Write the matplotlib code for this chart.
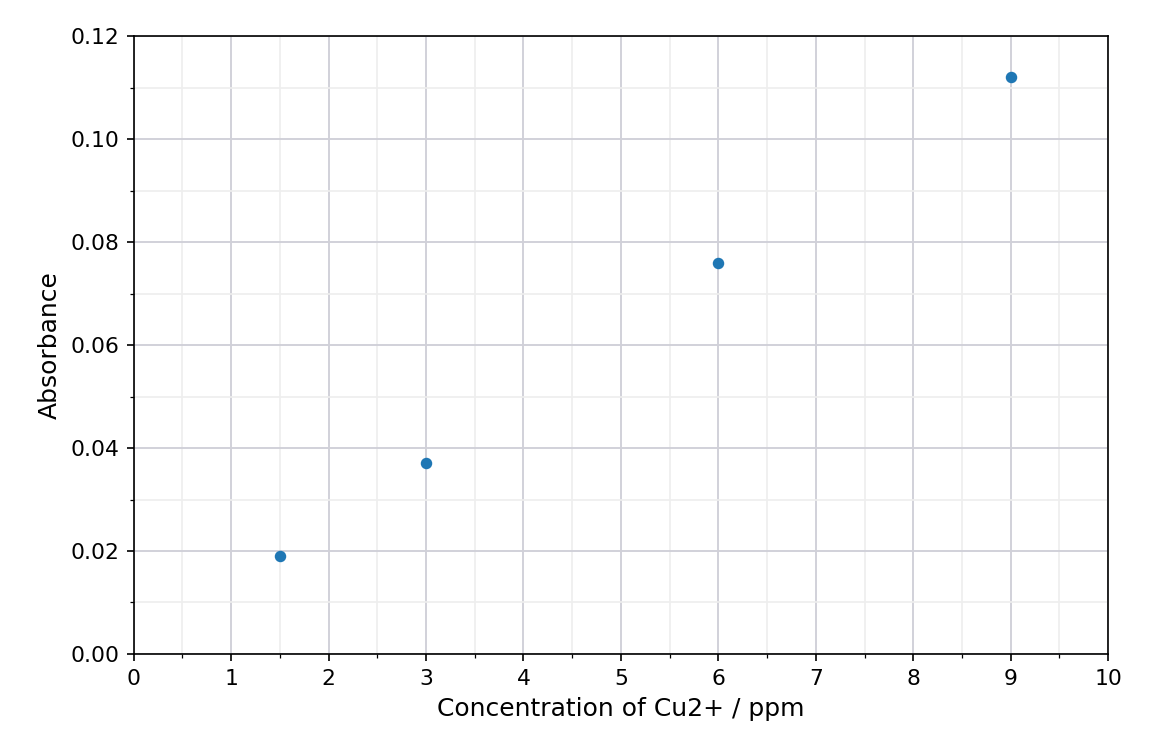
import matplotlib
matplotlib.use('Agg')
import matplotlib.pyplot as plt
from matplotlib.ticker import MultipleLocator

# Calibration data
conc = [1.5, 3, 6, 9]
absorbance = [0.019, 0.037, 0.076, 0.112]

fig = plt.figure(figsize=(7.68, 5.04), dpi=150)
ax = fig.add_axes([0.116, 0.135, 0.846, 0.817])

ax.plot(conc, absorbance, 'o', color='#1f77b4', markersize=4.5, zorder=3)

ax.set_xlim(0, 10)
ax.set_ylim(0, 0.12)
ax.xaxis.set_major_locator(MultipleLocator(1))
ax.xaxis.set_minor_locator(MultipleLocator(0.5))
ax.yaxis.set_major_locator(MultipleLocator(0.02))
ax.yaxis.set_minor_locator(MultipleLocator(0.01))
ax.yaxis.set_major_formatter(matplotlib.ticker.FormatStrFormatter('%.2f'))
ax.tick_params(labelsize=10.5)

ax.grid(which='major', color='#d0d0d8', linewidth=0.9)
ax.grid(which='minor', color='#eeeeee', linewidth=0.8)
ax.set_axisbelow(True)

ax.set_xlabel('Concentration of Cu2+ / ppm', fontsize=12)
ax.set_ylabel('Absorbance', fontsize=12)

fig.savefig('out.png', dpi=150)
